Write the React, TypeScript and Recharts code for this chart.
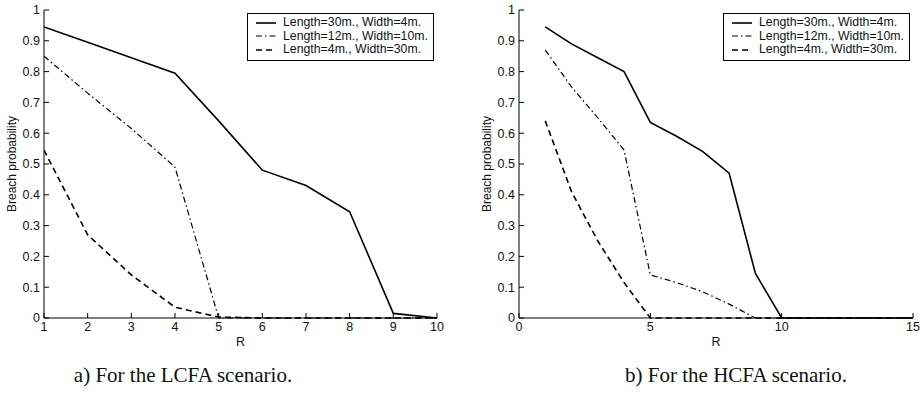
import React from 'react';
import { LineChart, Line, XAxis, YAxis, Legend } from 'recharts';

// R values and breach probabilities
const rLcfa = [1, 2, 3, 4, 5, 6, 7, 8, 9, 10];
const lcfaLong = [0.945, 0.895, 0.845, 0.795, 0.64, 0.48, 0.43, 0.345, 0.015, 0];
const lcfaMid = [0.85, 0.73, 0.615, 0.49, 0, 0, 0, 0, 0, 0];
const lcfaWide = [0.545, 0.27, 0.14, 0.035, 0.003, 0, 0, 0, 0, 0];

const rHcfa = [1, 2, 3, 4, 5, 6, 7, 8, 9, 10, 11, 12, 13, 14, 15];
const hcfaLong = [0.945, 0.89, 0.845, 0.8, 0.635, 0.59, 0.54, 0.47, 0.145, 0, 0, 0, 0, 0, 0];
const hcfaMid = [0.87, 0.75, 0.65, 0.545, 0.14, 0.115, 0.085, 0.045, 0, 0, 0, 0, 0, 0, 0];
const hcfaWide = [0.64, 0.41, 0.25, 0.115, 0, 0, 0, 0, 0, 0, 0, 0, 0, 0, 0];

const yTicks = [0, 0.1, 0.2, 0.3, 0.4, 0.5, 0.6, 0.7, 0.8, 0.9, 1];
const xTicksLcfa = [1, 2, 3, 4, 5, 6, 7, 8, 9, 10];
const xTicksHcfa = [0, 5, 10, 15];

const seriesNames = [
  'Length=30m., Width=4m.',
  'Length=12m., Width=10m.',
  'Length=4m., Width=30m.',
];
const dashes = [undefined, '6 3 1.5 3', '6 4'];
const widths = [1.6, 1.2, 1.6];

const FONT = '"Liberation Sans", Arial, sans-serif';
const tickStyle = { fontSize: 12.5, fill: '#111', fontFamily: FONT };

const buildRows = (r: number[], a: number[], b: number[], c: number[]) =>
  r.map((v, i) => ({ r: v, s0: a[i], s1: b[i], s2: c[i] }));

const LegendBox = () => (
  <div
    style={{
      border: '1px solid #000',
      background: '#fff',
      padding: '2px 5px 3px 7px',
      fontFamily: FONT,
      fontSize: 12.3,
      lineHeight: '13.5px',
      color: '#111',
      whiteSpace: 'nowrap',
    }}
  >
    {seriesNames.map((name, i) => (
      <div key={name} style={{ display: 'flex', alignItems: 'center' }}>
        <svg width={22} height={10} style={{ marginRight: 6 }}>
          <line
            x1={1}
            y1={5}
            x2={21}
            y2={5}
            stroke="#000"
            strokeWidth={widths[i]}
            strokeDasharray={dashes[i]}
          />
        </svg>
        <span>{name}</span>
      </div>
    ))}
  </div>
);

const yLabel = (props: any) => {
  const vb = props.viewBox;
  const cy = vb.y + vb.height / 2;
  const cx = vb.x + 13;
  return (
    <text
      x={cx}
      y={cy}
      transform={`rotate(-90, ${cx}, ${cy})`}
      textAnchor="middle"
      dominantBaseline="middle"
      fontSize={12}
      fontFamily={FONT}
      fill="#111"
    >
      Breach probability
    </text>
  );
};

const xLabel = (props: any) => {
  const vb = props.viewBox;
  return (
    <text
      x={vb.x + vb.width / 2}
      y={vb.y + 28}
      textAnchor="middle"
      fontSize={12.5}
      fontFamily={FONT}
      fill="#111"
    >
      R
    </text>
  );
};

interface PanelProps {
  data: { r: number; s0: number; s1: number; s2: number }[];
  xDomain: [number, number];
  xTicks: number[];
  leftPad: number;
  rightPad: number;
  legendLeft: number;
}

const Panel: React.FC<PanelProps> = ({ data, xDomain, xTicks, leftPad, rightPad, legendLeft }) => (
  <LineChart
    width={460}
    height={360}
    data={data}
    margin={{ top: 10, right: rightPad, left: leftPad, bottom: 12 }}
  >
    <XAxis
      xAxisId="bottom"
      dataKey="r"
      type="number"
      domain={xDomain}
      ticks={xTicks}
      allowDataOverflow
      height={30}
      tickSize={-5}
      tickMargin={9}
      stroke="#000"
      tick={tickStyle}
      label={xLabel}
    />
    <XAxis
      xAxisId="top"
      orientation="top"
      dataKey="r"
      type="number"
      domain={xDomain}
      ticks={xTicks}
      allowDataOverflow
      height={0}
      tickSize={-5}
      tick={false}
      stroke="#000"
    />
    <YAxis
      yAxisId="left"
      domain={[0, 1]}
      ticks={yTicks}
      width={44}
      tickSize={-5}
      tickMargin={9}
      stroke="#000"
      tick={tickStyle}
      label={yLabel}
    />
    <YAxis
      yAxisId="right"
      orientation="right"
      domain={[0, 1]}
      ticks={yTicks}
      width={0}
      tickSize={-5}
      tick={false}
      stroke="#000"
    />
    <Legend
      layout="vertical"
      verticalAlign="middle"
      align="center"
      content={<LegendBox />}
      wrapperStyle={{ top: 13, left: legendLeft, width: 'auto' }}
    />
    {['s0', 's1', 's2'].map((key, i) => (
      <Line
        key={key}
        xAxisId="bottom"
        yAxisId="left"
        dataKey={key}
        type="linear"
        stroke="#000"
        strokeWidth={widths[i]}
        strokeDasharray={dashes[i]}
        dot={false}
        activeDot={false}
        isAnimationActive={false}
      />
    ))}
  </LineChart>
);

const captionStyle: React.CSSProperties = {
  position: 'absolute',
  top: 362,
  fontFamily: '"Liberation Serif", "Times New Roman", serif',
  fontSize: 21,
  lineHeight: '26px',
  color: '#111',
  whiteSpace: 'nowrap',
  transform: 'translateX(-50%)',
};

export default function App() {
  return (
    <div
      style={{
        position: 'absolute',
        left: 0,
        top: 0,
        width: 920,
        height: 399,
        background: '#fff',
        overflow: 'hidden',
      }}
    >
      <div style={{ position: 'absolute', left: 0, top: 0 }}>
        <Panel
          data={buildRows(rLcfa, lcfaLong, lcfaMid, lcfaWide)}
          xDomain={[1, 10]}
          xTicks={xTicksLcfa}
          leftPad={0}
          rightPad={23}
          legendLeft={247}
        />
      </div>
      <div style={{ position: 'absolute', left: 460, top: 0 }}>
        <Panel
          data={buildRows(rHcfa, hcfaLong, hcfaMid, hcfaWide)}
          xDomain={[0, 15]}
          xTicks={xTicksHcfa}
          leftPad={15}
          rightPad={7}
          legendLeft={263}
        />
      </div>
      <div style={{ ...captionStyle, left: 183 }}>a) For the LCFA scenario.</div>
      <div style={{ ...captionStyle, left: 736 }}>b) For the HCFA scenario.</div>
    </div>
  );
}
